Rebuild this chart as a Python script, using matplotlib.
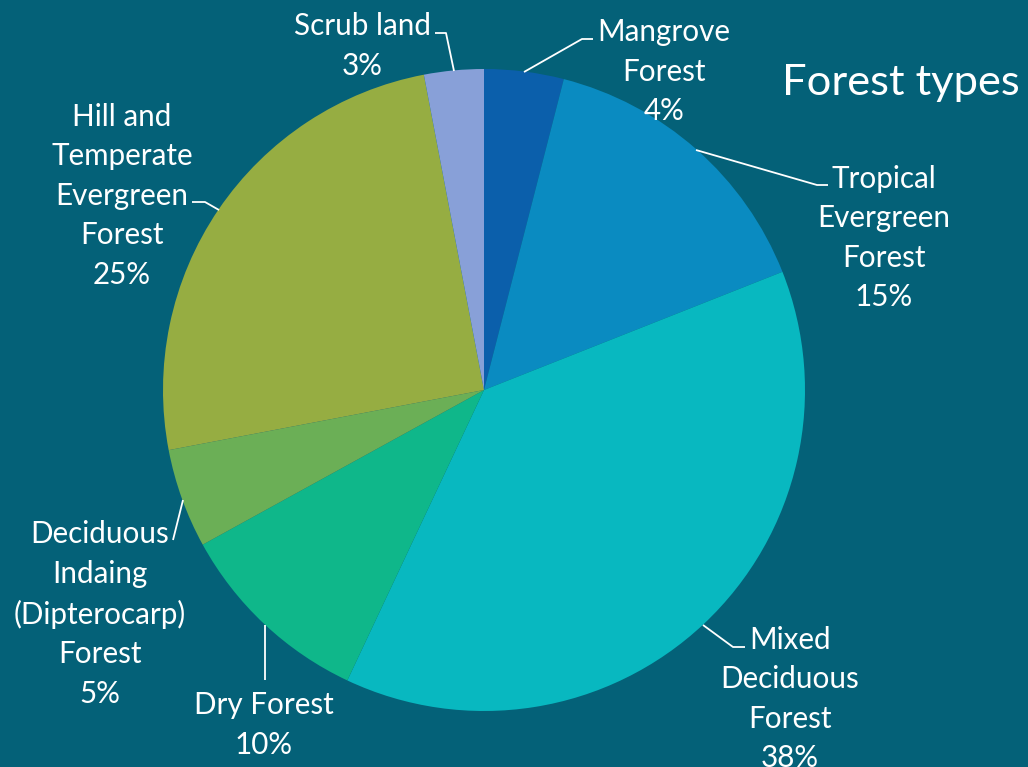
import numpy as np
import matplotlib.pyplot as plt

plt.rcParams['font.family'] = ['Lato', 'DejaVu Sans']

# forest cover shares, clockwise from 12 o'clock
forest_types = ['Mangrove\nForest', 'Tropical\nEvergreen\nForest', 'Mixed\nDeciduous\nForest',
                'Dry Forest', 'Deciduous\nIndaing\n(Dipterocarp)\nForest',
                'Hill and\nTemperate\nEvergreen\nForest', 'Scrub land']
shares = [4, 15, 38, 10, 5, 25, 3]
colors = ['#0b5fab', '#0a8bc1', '#08b8c0', '#0fb78a', '#6baf56', '#96ad42', '#88a0d8']

bg = '#046178'
W, H = 1028, 767

# label text centre (px) and leader line path (px, from text to slice edge)
label_pos = [(664, 72), (884, 238), (790, 699), (264, 725), (100, 614), (122, 196), (362, 46)]
leader_pts = [[(593, 39), (582, 39)], [(828, 185), (817, 185)], [(745, 647), (733, 647)],
              [(265, 680)], [(173, 540)], [(192, 202), (205, 202)], [(435, 33), (446, 33)]]
# leader end point on the rim of each wedge
rim_targets = [(524, 72), (696, 150), (703, 625), (265, 625), (183, 500), (219, 210), (454, 71)]

fig = plt.figure(figsize=(W / 100, H / 100), dpi=100, facecolor=bg)
ax = fig.add_axes([0, 0, 1, 1])
ax.set_facecolor(bg)

cx, cy, r = 484, H - 390, 321
wedges, _ = ax.pie(shares, colors=colors, startangle=90, counterclock=False,
                   center=(cx, cy), radius=r, frame=True,
                   wedgeprops=dict(linewidth=0))
ax.set_xlim(0, W)
ax.set_ylim(0, H)
ax.set_aspect('equal')
ax.axis('off')

for name, val, (lx, ly), pts, (tx, ty) in zip(forest_types, shares, label_pos,
                                              leader_pts, rim_targets):
    ax.text(lx, H - ly, f'{name}\n{val}%', ha='center', va='center', color='white',
            fontsize=21.3, linespacing=1.5)
    xs = [p[0] for p in pts] + [tx]
    ys = [H - p[1] for p in pts] + [H - ty]
    ax.plot(xs, ys, color='white', lw=1.3, solid_capstyle='butt')

ax.text(1020, H - 83, 'Forest types', ha='right', va='center', color='white', fontsize=31.3)

fig.savefig('out.png', dpi=100, facecolor=bg)
